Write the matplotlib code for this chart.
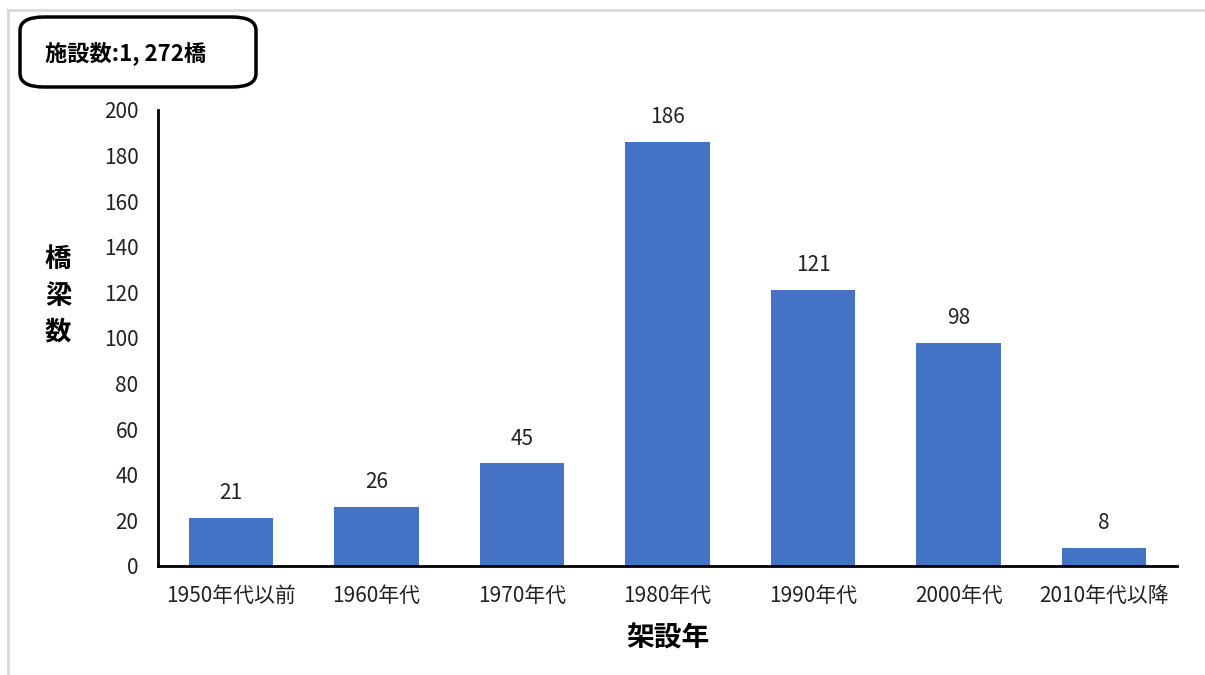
import matplotlib
matplotlib.use("Agg")
import matplotlib.pyplot as plt
from matplotlib.patches import FancyBboxPatch
from matplotlib.lines import Line2D

plt.rcParams["font.family"] = ["Noto Sans CJK JP", "DejaVu Sans"]

categories = ["1950年代以前", "1960年代", "1970年代", "1980年代", "1990年代", "2000年代", "2010年代以降"]
counts = [21, 26, 45, 186, 121, 98, 8]
y_ticks = list(range(0, 201, 20))

W, H = 1205, 675
fig = plt.figure(figsize=(W / 100, H / 100), dpi=100)

# axes in pixel coordinates: left 158, right 1177, bottom 566, top 110
ax = fig.add_axes([158 / W, 1 - 566 / H, (1177 - 158) / W, (566 - 110) / H])
x = range(len(categories))
ax.bar(x, counts, width=0.58, color="#4472c4")
for xi, v in zip(x, counts):
    ax.text(xi, v + 6, str(v), ha="center", va="bottom", fontsize=15, color="#222222")

ax.set_xlim(-0.5, len(categories) - 0.5)
ax.set_ylim(0, 200)
ax.set_yticks(y_ticks)
ax.set_xticks(list(x))
ax.set_xticklabels(categories)
ax.tick_params(axis="both", length=0, labelsize=15, colors="#222222")
ax.tick_params(axis="y", pad=14)
ax.tick_params(axis="x", pad=14)
for s in ["top", "right"]:
    ax.spines[s].set_visible(False)
for s in ["left", "bottom"]:
    ax.spines[s].set_linewidth(2)
    ax.spines[s].set_color("black")

ax.set_xlabel("架設年", fontsize=20, fontweight="bold", labelpad=12)
fig.text(58 / W, 1 - 296 / H, "橋\n梁\n数", ha="center", va="center",
         fontsize=19, fontweight="bold", linespacing=1.45)

# light gray outer frame (top and left)
fig.add_artist(Line2D([8 / W, 1], [1 - 10 / H, 1 - 10 / H], color="#d9d9d9", lw=2))
fig.add_artist(Line2D([8 / W, 8 / W], [0, 1 - 10 / H], color="#d9d9d9", lw=2))

# rounded box with total count
box = FancyBboxPatch((20 / W, 1 - 87 / H), (256 - 20) / W, (87 - 17) / H,
                     boxstyle="round,pad=0,rounding_size=0.02",
                     transform=fig.transFigure, fill=False, lw=2.5, ec="black")
fig.add_artist(box)
fig.text(45 / W, 1 - 53 / H, "施設数:1, 272橋", ha="left", va="center",
         fontsize=16, fontweight="bold")

fig.savefig("out.png", dpi=100)
